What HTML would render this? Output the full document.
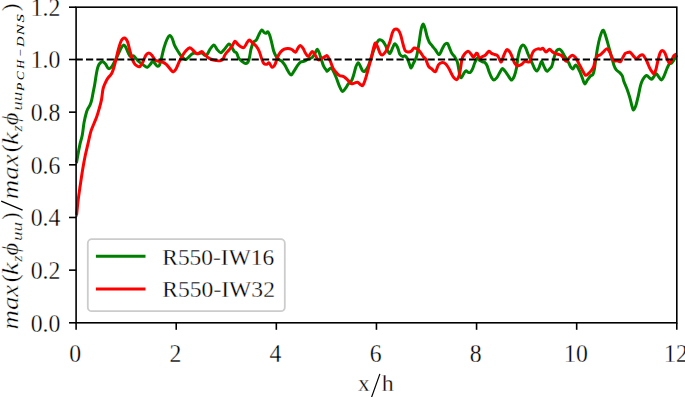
<!DOCTYPE html>
<html><head><meta charset="utf-8"><style>
html,body{margin:0;padding:0;background:#fff;}
svg{display:block;}
.t{font-family:"Liberation Serif",serif;font-size:24.5px;fill:#000;stroke:#fff;stroke-width:0.3px;}
.m{font-family:"Liberation Serif",serif;font-style:italic;font-size:24.5px;fill:#000;}
.yl{font-family:"Liberation Serif",serif;fill:#000;stroke:#fff;stroke-width:0.35px;}
.s{font-size:16.5px;}
.ss{font-size:11.8px;}
</style></head><body>
<svg width="685" height="397" viewBox="0 0 685 397">

<path d="M76.30,162.50 C76.37,162.37 76.35,163.43 76.70,161.70 C77.05,159.97 77.83,155.12 78.40,152.10 C78.97,149.08 79.45,146.45 80.10,143.60 C80.75,140.75 81.63,138.55 82.30,135.00 C82.97,131.45 83.42,126.05 84.10,122.30 C84.78,118.55 85.77,114.77 86.40,112.50 C87.03,110.23 87.28,109.97 87.90,108.70 C88.52,107.43 89.48,106.28 90.10,104.90 C90.72,103.52 91.08,102.53 91.60,100.40 C92.12,98.27 92.68,94.75 93.20,92.10 C93.72,89.45 94.17,87.55 94.70,84.50 C95.23,81.45 95.87,76.72 96.40,73.80 C96.93,70.88 97.27,68.82 97.90,67.00 C98.53,65.18 99.37,63.78 100.20,62.90 C101.03,62.02 102.02,61.52 102.90,61.70 C103.78,61.88 104.57,62.87 105.50,64.00 C106.43,65.13 107.50,68.00 108.50,68.50 C109.50,69.00 110.50,68.13 111.50,67.00 C112.50,65.87 113.48,63.58 114.50,61.70 C115.52,59.82 116.58,57.83 117.60,55.70 C118.62,53.57 119.60,50.67 120.60,48.90 C121.60,47.13 122.72,45.35 123.60,45.10 C124.48,44.85 125.15,46.13 125.90,47.40 C126.65,48.67 127.35,51.20 128.10,52.70 C128.85,54.20 129.50,55.88 130.40,56.40 C131.30,56.92 132.30,55.12 133.50,55.80 C134.70,56.48 136.30,59.20 137.60,60.50 C138.90,61.80 140.17,62.72 141.30,63.60 C142.43,64.48 143.38,65.18 144.40,65.80 C145.42,66.42 146.40,67.55 147.40,67.30 C148.40,67.05 149.52,65.30 150.40,64.30 C151.28,63.30 151.93,61.42 152.70,61.30 C153.47,61.18 154.25,62.80 155.00,63.60 C155.75,64.40 156.45,65.85 157.20,66.10 C157.95,66.35 158.73,66.65 159.50,65.10 C160.27,63.55 161.05,59.70 161.80,56.80 C162.55,53.90 163.13,50.60 164.00,47.70 C164.87,44.80 166.03,41.42 167.00,39.40 C167.97,37.38 168.92,35.73 169.80,35.60 C170.68,35.47 171.50,36.97 172.30,38.60 C173.10,40.23 173.72,43.38 174.60,45.40 C175.48,47.42 176.60,49.07 177.60,50.70 C178.60,52.33 179.58,53.93 180.60,55.20 C181.62,56.47 182.82,57.58 183.70,58.30 C184.58,59.02 185.02,59.75 185.90,59.50 C186.78,59.25 187.98,57.72 189.00,56.80 C190.02,55.88 191.00,54.63 192.00,54.00 C193.00,53.37 194.00,53.05 195.00,53.00 C196.00,52.95 196.87,53.70 198.00,53.70 C199.13,53.70 200.67,52.75 201.80,53.00 C202.93,53.25 203.92,54.95 204.80,55.20 C205.68,55.45 206.22,55.50 207.10,54.50 C207.98,53.50 208.97,50.78 210.10,49.20 C211.23,47.62 212.77,45.00 213.90,45.00 C215.03,45.00 215.77,47.92 216.90,49.20 C218.03,50.48 219.43,52.70 220.70,52.70 C221.97,52.70 223.12,50.67 224.50,49.20 C225.88,47.73 227.75,44.15 229.00,43.90 C230.25,43.65 231.12,46.43 232.00,47.70 C232.88,48.97 233.53,50.62 234.30,51.50 C235.07,52.38 235.85,51.87 236.60,53.00 C237.35,54.13 237.92,56.92 238.80,58.30 C239.68,59.68 240.75,60.42 241.90,61.30 C243.05,62.18 244.57,63.73 245.70,63.60 C246.83,63.47 247.82,62.90 248.70,60.50 C249.58,58.10 250.25,52.22 251.00,49.20 C251.75,46.18 252.33,43.92 253.20,42.40 C254.07,40.88 255.32,41.23 256.20,40.10 C257.08,38.97 257.60,37.28 258.50,35.60 C259.40,33.92 260.65,30.50 261.60,30.00 C262.55,29.50 263.47,32.05 264.20,32.60 C264.93,33.15 265.38,33.43 266.00,33.30 C266.62,33.17 267.27,31.42 267.90,31.80 C268.53,32.18 269.15,33.72 269.80,35.60 C270.45,37.48 271.17,40.58 271.80,43.10 C272.43,45.62 272.92,48.55 273.60,50.70 C274.28,52.85 275.15,54.62 275.90,56.00 C276.65,57.38 277.10,58.12 278.10,59.00 C279.10,59.88 280.77,60.28 281.90,61.30 C283.03,62.32 284.02,63.72 284.90,65.10 C285.78,66.48 286.18,67.97 287.20,69.60 C288.22,71.23 289.87,74.65 291.00,74.90 C292.13,75.15 292.87,72.73 294.00,71.10 C295.13,69.47 296.67,66.62 297.80,65.10 C298.93,63.58 299.67,62.68 300.80,62.00 C301.93,61.32 303.33,61.50 304.60,61.00 C305.87,60.50 307.13,59.58 308.40,59.00 C309.67,58.42 311.07,58.50 312.20,57.50 C313.33,56.50 314.37,54.38 315.20,53.00 C316.03,51.62 316.52,49.20 317.20,49.20 C317.88,49.20 318.63,51.37 319.30,53.00 C319.97,54.63 320.50,56.87 321.20,59.00 C321.90,61.13 322.62,63.90 323.50,65.80 C324.38,67.70 325.87,69.53 326.50,70.40 C327.13,71.27 326.55,71.40 327.30,71.00 C328.05,70.60 330.00,68.00 331.00,68.00 C332.00,68.00 332.42,69.37 333.30,71.00 C334.18,72.63 335.28,75.28 336.30,77.80 C337.32,80.32 338.38,83.83 339.40,86.10 C340.42,88.37 341.40,91.02 342.40,91.40 C343.40,91.78 344.40,89.67 345.40,88.40 C346.40,87.13 347.38,85.07 348.40,83.80 C349.42,82.53 350.62,82.30 351.50,80.80 C352.38,79.30 352.95,77.18 353.70,74.80 C354.45,72.42 355.23,68.52 356.00,66.50 C356.77,64.48 357.55,62.70 358.30,62.70 C359.05,62.70 359.75,65.12 360.50,66.50 C361.25,67.88 362.03,70.25 362.80,71.00 C363.57,71.75 364.22,71.75 365.10,71.00 C365.98,70.25 367.10,68.65 368.10,66.50 C369.10,64.35 370.10,61.00 371.10,58.10 C372.10,55.20 373.08,51.73 374.10,49.10 C375.12,46.47 376.32,43.85 377.20,42.30 C378.08,40.75 378.52,40.03 379.40,39.80 C380.28,39.57 381.48,39.97 382.50,40.90 C383.52,41.83 384.63,43.77 385.50,45.40 C386.37,47.03 386.95,49.37 387.70,50.70 C388.45,52.03 389.17,53.90 390.00,53.40 C390.83,52.90 391.90,49.32 392.70,47.70 C393.50,46.08 393.98,43.73 394.80,43.70 C395.62,43.67 396.77,45.73 397.60,47.50 C398.43,49.27 398.92,52.78 399.80,54.30 C400.68,55.82 402.02,56.35 402.90,56.60 C403.78,56.85 404.35,55.43 405.10,55.80 C405.85,56.17 406.63,57.28 407.40,58.80 C408.17,60.32 409.07,63.38 409.70,64.90 C410.33,66.42 410.58,68.15 411.20,67.90 C411.82,67.65 412.52,65.28 413.40,63.40 C414.28,61.52 415.62,59.63 416.50,56.60 C417.38,53.57 417.95,49.62 418.70,45.20 C419.45,40.78 420.28,33.62 421.00,30.10 C421.72,26.58 422.32,24.35 423.00,24.10 C423.68,23.85 424.43,26.58 425.10,28.60 C425.77,30.62 426.30,33.93 427.00,36.20 C427.70,38.47 428.42,40.57 429.30,42.20 C430.18,43.83 431.28,44.73 432.30,46.00 C433.32,47.27 434.27,48.37 435.40,49.80 C436.53,51.23 437.97,54.73 439.10,54.60 C440.23,54.47 441.27,50.68 442.20,49.00 C443.13,47.32 443.82,45.43 444.70,44.50 C445.58,43.57 446.67,42.77 447.50,43.40 C448.33,44.03 448.95,46.60 449.70,48.30 C450.45,50.00 451.12,52.10 452.00,53.60 C452.88,55.10 454.12,55.92 455.00,57.30 C455.88,58.68 456.67,59.88 457.30,61.90 C457.93,63.92 458.38,67.15 458.80,69.40 C459.22,71.65 459.38,74.03 459.80,75.40 C460.22,76.77 460.67,77.87 461.30,77.60 C461.93,77.33 462.83,74.93 463.60,73.80 C464.37,72.67 465.15,71.05 465.90,70.80 C466.65,70.55 467.35,72.05 468.10,72.30 C468.85,72.55 469.63,72.92 470.40,72.30 C471.17,71.68 471.95,70.23 472.70,68.60 C473.45,66.97 474.15,64.27 474.90,62.50 C475.65,60.73 476.43,58.38 477.20,58.00 C477.97,57.62 478.62,59.57 479.50,60.20 C480.38,60.83 481.62,61.42 482.50,61.80 C483.38,62.18 484.05,61.88 484.80,62.50 C485.55,63.12 486.25,63.87 487.00,65.50 C487.75,67.13 488.53,70.28 489.30,72.30 C490.07,74.32 490.85,76.33 491.60,77.60 C492.35,78.87 492.92,79.90 493.80,79.90 C494.68,79.90 495.88,78.87 496.90,77.60 C497.92,76.33 499.02,73.80 499.90,72.30 C500.78,70.80 501.40,68.85 502.20,68.60 C503.00,68.35 503.82,69.80 504.70,70.80 C505.58,71.80 506.53,73.22 507.50,74.60 C508.47,75.98 509.75,78.22 510.50,79.10 C511.25,79.98 511.37,80.40 512.00,79.90 C512.63,79.40 513.55,78.08 514.30,76.10 C515.05,74.12 515.88,71.18 516.50,68.00 C517.12,64.82 517.37,60.27 518.00,57.00 C518.63,53.73 519.48,50.40 520.30,48.40 C521.12,46.40 522.02,45.12 522.90,45.00 C523.78,44.88 524.77,46.25 525.60,47.70 C526.43,49.15 527.15,51.82 527.90,53.70 C528.65,55.58 529.35,57.35 530.10,59.00 C530.85,60.65 531.63,61.97 532.40,63.60 C533.17,65.23 533.95,67.55 534.70,68.80 C535.45,70.05 536.15,71.35 536.90,71.10 C537.65,70.85 538.43,68.93 539.20,67.30 C539.97,65.67 540.75,61.55 541.50,61.30 C542.25,61.05 542.95,64.28 543.70,65.80 C544.45,67.32 545.37,69.52 546.00,70.40 C546.63,71.28 546.87,71.37 547.50,71.10 C548.13,70.83 549.05,69.68 549.80,68.80 C550.55,67.92 551.25,67.80 552.00,65.80 C552.75,63.80 553.53,59.32 554.30,56.80 C555.07,54.28 555.72,51.97 556.60,50.70 C557.48,49.43 558.72,49.07 559.60,49.20 C560.48,49.33 561.15,50.50 561.90,51.50 C562.65,52.50 563.35,53.95 564.10,55.20 C564.85,56.45 565.63,57.73 566.40,59.00 C567.17,60.27 567.95,61.42 568.70,62.80 C569.45,64.18 570.20,66.30 570.90,67.30 C571.60,68.30 572.13,69.17 572.90,68.80 C573.67,68.43 574.70,65.35 575.50,65.10 C576.30,64.85 576.95,66.17 577.70,67.30 C578.45,68.43 579.23,70.13 580.00,71.90 C580.77,73.67 581.50,75.90 582.30,77.90 C583.10,79.90 583.92,83.60 584.80,83.90 C585.68,84.20 586.63,81.03 587.60,79.70 C588.57,78.37 589.72,76.78 590.60,75.90 C591.48,75.02 592.27,75.53 592.90,74.40 C593.53,73.27 593.95,71.42 594.40,69.10 C594.85,66.78 595.10,63.90 595.60,60.50 C596.10,57.10 596.72,52.43 597.40,48.70 C598.08,44.97 598.82,41.17 599.70,38.10 C600.58,35.03 601.83,31.05 602.70,30.30 C603.57,29.55 604.15,31.78 604.90,33.60 C605.65,35.42 606.43,38.55 607.20,41.20 C607.97,43.85 608.73,46.73 609.50,49.50 C610.27,52.27 611.05,55.15 611.80,57.80 C612.55,60.45 613.25,63.38 614.00,65.40 C614.75,67.42 615.42,68.77 616.30,69.90 C617.18,71.03 618.30,71.20 619.30,72.20 C620.30,73.20 621.55,74.40 622.30,75.90 C623.05,77.40 623.03,79.07 623.80,81.20 C624.57,83.33 625.88,85.93 626.90,88.70 C627.92,91.47 629.02,94.77 629.90,97.80 C630.78,100.83 631.57,104.88 632.20,106.90 C632.83,108.92 633.08,110.15 633.70,109.90 C634.32,109.65 635.15,107.67 635.90,105.40 C636.65,103.13 637.43,99.58 638.20,96.30 C638.97,93.02 639.75,88.47 640.50,85.70 C641.25,82.93 641.70,81.40 642.70,79.70 C643.70,78.00 645.35,75.78 646.50,75.50 C647.65,75.22 648.70,77.40 649.60,78.00 C650.50,78.60 651.13,79.42 651.90,79.10 C652.67,78.78 653.45,76.98 654.20,76.10 C654.95,75.22 655.65,73.68 656.40,73.80 C657.15,73.92 657.87,75.78 658.70,76.80 C659.53,77.82 660.52,80.02 661.40,79.90 C662.28,79.78 663.07,78.00 664.00,76.10 C664.93,74.20 666.12,70.52 667.00,68.50 C667.88,66.48 668.53,64.88 669.30,64.00 C670.07,63.12 670.85,63.83 671.60,63.20 C672.35,62.57 672.93,61.53 673.80,60.20 C674.67,58.87 676.30,56.03 676.80,55.20" fill="none" stroke="#008000" stroke-width="3" stroke-linejoin="round"/>
<path d="M76.30,215.00 C76.37,214.85 76.42,216.38 76.70,214.10 C76.98,211.82 77.43,205.93 78.00,201.30 C78.57,196.67 79.32,191.65 80.10,186.30 C80.88,180.95 81.83,174.37 82.70,169.20 C83.57,164.03 84.42,159.57 85.30,155.30 C86.18,151.03 87.07,147.58 88.00,143.60 C88.93,139.62 89.92,134.70 90.90,131.40 C91.88,128.10 92.90,126.32 93.90,123.80 C94.90,121.28 96.02,118.82 96.90,116.30 C97.78,113.78 98.43,111.48 99.20,108.70 C99.97,105.92 100.87,102.87 101.50,99.60 C102.13,96.33 102.38,91.83 103.00,89.10 C103.62,86.37 104.42,84.98 105.20,83.20 C105.98,81.42 106.65,79.97 107.70,78.40 C108.75,76.83 110.48,75.57 111.50,73.80 C112.52,72.03 113.05,70.18 113.80,67.80 C114.55,65.42 115.25,62.53 116.00,59.50 C116.75,56.47 117.42,52.75 118.30,49.60 C119.18,46.45 120.28,42.55 121.30,40.60 C122.32,38.65 123.38,37.78 124.40,37.90 C125.42,38.02 126.53,39.35 127.40,41.30 C128.27,43.25 128.85,46.82 129.60,49.60 C130.35,52.38 131.13,55.73 131.90,58.00 C132.67,60.27 133.38,61.90 134.20,63.20 C135.02,64.50 135.87,65.23 136.80,65.80 C137.73,66.37 138.78,67.23 139.80,66.60 C140.82,65.97 141.88,63.90 142.90,62.00 C143.92,60.10 144.90,56.70 145.90,55.20 C146.90,53.70 147.90,53.00 148.90,53.00 C149.90,53.00 150.88,54.07 151.90,55.20 C152.92,56.33 153.87,58.78 155.00,59.80 C156.13,60.82 157.45,60.93 158.70,61.30 C159.95,61.67 161.23,61.50 162.50,62.00 C163.77,62.50 165.05,63.17 166.30,64.30 C167.55,65.43 168.87,67.53 170.00,68.80 C171.13,70.07 172.08,71.90 173.10,71.90 C174.12,71.90 175.10,70.45 176.10,68.80 C177.10,67.15 178.08,64.13 179.10,62.00 C180.12,59.87 181.07,57.88 182.20,56.00 C183.33,54.12 184.65,52.08 185.90,50.70 C187.15,49.32 188.57,47.82 189.70,47.70 C190.83,47.58 191.68,49.12 192.70,50.00 C193.72,50.88 194.92,52.38 195.80,53.00 C196.68,53.62 197.00,53.95 198.00,53.70 C199.00,53.45 200.67,51.37 201.80,51.50 C202.93,51.63 203.78,53.50 204.80,54.50 C205.82,55.50 206.77,56.67 207.90,57.50 C209.03,58.33 210.22,59.00 211.60,59.50 C212.98,60.00 214.80,60.28 216.20,60.50 C217.60,60.72 218.87,61.05 220.00,60.80 C221.13,60.55 222.13,60.05 223.00,59.00 C223.87,57.95 224.20,56.00 225.20,54.50 C226.20,53.00 227.87,51.38 229.00,50.00 C230.13,48.62 231.00,47.65 232.00,46.20 C233.00,44.75 233.98,41.55 235.00,41.30 C236.02,41.05 237.08,43.77 238.10,44.70 C239.12,45.63 240.10,46.45 241.10,46.90 C242.10,47.35 243.08,48.15 244.10,47.40 C245.12,46.65 246.32,43.62 247.20,42.40 C248.08,41.18 248.52,40.03 249.40,40.10 C250.28,40.17 251.37,41.78 252.50,42.80 C253.63,43.82 255.07,44.75 256.20,46.20 C257.33,47.65 258.42,49.48 259.30,51.50 C260.18,53.52 260.75,56.28 261.50,58.30 C262.25,60.32 262.92,62.60 263.80,63.60 C264.68,64.60 265.92,64.43 266.80,64.30 C267.68,64.17 268.22,62.30 269.10,62.80 C269.98,63.30 271.10,67.05 272.10,67.30 C273.10,67.55 274.22,65.93 275.10,64.30 C275.98,62.67 276.52,59.52 277.40,57.50 C278.28,55.48 279.27,53.58 280.40,52.20 C281.53,50.82 282.93,49.83 284.20,49.20 C285.47,48.57 286.73,48.35 288.00,48.40 C289.27,48.45 290.55,48.87 291.80,49.50 C293.05,50.13 294.50,52.38 295.50,52.20 C296.50,52.02 297.03,49.53 297.80,48.40 C298.57,47.27 299.22,45.40 300.10,45.40 C300.98,45.40 302.22,47.13 303.10,48.40 C303.98,49.67 304.52,51.67 305.40,53.00 C306.28,54.33 307.27,56.65 308.40,56.40 C309.53,56.15 311.07,51.70 312.20,51.50 C313.33,51.30 314.20,53.82 315.20,55.20 C316.20,56.58 317.20,59.17 318.20,59.80 C319.20,60.43 319.93,59.63 321.20,59.00 C322.47,58.37 324.78,56.52 325.80,56.00 C326.82,55.48 326.55,55.03 327.30,55.90 C328.05,56.77 329.30,59.07 330.30,61.20 C331.30,63.33 332.30,66.82 333.30,68.70 C334.30,70.58 335.28,71.37 336.30,72.50 C337.32,73.63 338.27,74.87 339.40,75.50 C340.53,76.13 341.97,75.78 343.10,76.30 C344.23,76.82 345.18,77.72 346.20,78.60 C347.22,79.48 348.32,80.73 349.20,81.60 C350.08,82.47 350.62,83.55 351.50,83.80 C352.38,84.05 353.50,83.35 354.50,83.10 C355.50,82.85 356.50,82.05 357.50,82.30 C358.50,82.55 359.62,84.08 360.50,84.60 C361.38,85.12 362.03,86.15 362.80,85.40 C363.57,84.65 364.35,82.25 365.10,80.10 C365.85,77.95 366.55,75.15 367.30,72.50 C368.05,69.85 368.83,67.10 369.60,64.20 C370.37,61.30 371.15,58.13 371.90,55.10 C372.65,52.07 373.48,48.02 374.10,46.00 C374.72,43.98 374.97,42.73 375.60,43.00 C376.23,43.27 377.13,45.83 377.90,47.60 C378.67,49.37 379.48,52.35 380.20,53.60 C380.92,54.85 381.45,55.22 382.20,55.10 C382.95,54.98 383.90,53.90 384.70,52.90 C385.50,51.90 386.12,51.00 387.00,49.10 C387.88,47.20 389.12,44.17 390.00,41.50 C390.88,38.83 391.55,35.12 392.30,33.10 C393.05,31.08 393.50,29.90 394.50,29.40 C395.50,28.90 397.28,29.22 398.30,30.10 C399.32,30.98 399.83,32.43 400.60,34.70 C401.37,36.97 402.15,41.07 402.90,43.70 C403.65,46.33 404.23,49.12 405.10,50.50 C405.97,51.88 407.08,51.87 408.10,52.00 C409.12,52.13 410.18,51.97 411.20,51.30 C412.22,50.63 413.20,48.38 414.20,48.00 C415.20,47.62 416.20,48.33 417.20,49.00 C418.20,49.67 419.18,50.73 420.20,52.00 C421.22,53.27 422.42,55.47 423.30,56.60 C424.18,57.73 424.62,57.17 425.50,58.80 C426.38,60.43 427.58,64.75 428.60,66.40 C429.62,68.05 430.47,67.82 431.60,68.70 C432.73,69.58 434.27,72.33 435.40,71.70 C436.53,71.07 437.27,66.42 438.40,64.90 C439.53,63.38 440.95,62.73 442.20,62.60 C443.45,62.47 444.77,63.08 445.90,64.10 C447.03,65.12 448.07,67.08 449.00,68.70 C449.93,70.32 450.70,72.32 451.50,73.80 C452.30,75.28 452.92,76.63 453.80,77.60 C454.68,78.57 455.92,79.97 456.80,79.60 C457.68,79.23 458.47,77.37 459.10,75.40 C459.73,73.43 460.10,70.58 460.60,67.80 C461.10,65.02 461.47,60.97 462.10,58.70 C462.73,56.43 463.40,55.45 464.40,54.20 C465.40,52.95 466.97,51.20 468.10,51.20 C469.23,51.20 470.32,53.20 471.20,54.20 C472.08,55.20 472.65,57.20 473.40,57.20 C474.15,57.20 475.07,54.83 475.70,54.20 C476.33,53.57 476.57,52.77 477.20,53.40 C477.83,54.03 478.62,57.48 479.50,58.00 C480.38,58.52 481.50,57.00 482.50,56.50 C483.50,56.00 484.42,55.88 485.50,55.00 C486.58,54.12 487.98,51.47 489.00,51.20 C490.02,50.93 490.67,52.85 491.60,53.40 C492.53,53.95 493.60,54.12 494.60,54.50 C495.60,54.88 496.72,54.75 497.60,55.70 C498.48,56.65 499.27,59.18 499.90,60.20 C500.53,61.22 500.77,62.55 501.40,61.80 C502.03,61.05 502.82,57.72 503.70,55.70 C504.58,53.68 505.70,50.33 506.70,49.70 C507.70,49.07 508.82,50.77 509.70,51.90 C510.58,53.03 511.23,54.73 512.00,56.50 C512.77,58.27 513.55,61.03 514.30,62.50 C515.05,63.97 515.80,64.75 516.50,65.30 C517.20,65.85 517.62,65.97 518.50,65.80 C519.38,65.63 520.75,65.05 521.80,64.30 C522.85,63.55 523.78,61.68 524.80,61.30 C525.82,60.92 527.02,62.00 527.90,62.00 C528.78,62.00 529.48,62.43 530.10,61.30 C530.72,60.17 530.97,56.97 531.60,55.20 C532.23,53.43 532.88,51.75 533.90,50.70 C534.92,49.65 536.57,49.15 537.70,48.90 C538.83,48.65 539.82,49.28 540.70,49.20 C541.58,49.12 542.12,47.95 543.00,48.40 C543.88,48.85 544.92,51.77 546.00,51.90 C547.08,52.03 548.50,49.27 549.50,49.20 C550.50,49.13 551.07,50.80 552.00,51.50 C552.93,52.20 553.97,52.90 555.10,53.40 C556.23,53.90 557.67,54.07 558.80,54.50 C559.93,54.93 561.02,55.25 561.90,56.00 C562.78,56.75 563.35,58.12 564.10,59.00 C564.85,59.88 565.52,61.55 566.40,61.30 C567.28,61.05 568.38,58.52 569.40,57.50 C570.42,56.48 571.48,55.20 572.50,55.20 C573.52,55.20 574.63,56.48 575.50,57.50 C576.37,58.52 576.95,59.92 577.70,61.30 C578.45,62.68 579.23,64.37 580.00,65.80 C580.77,67.23 581.42,68.33 582.30,69.90 C583.18,71.47 584.30,74.57 585.30,75.20 C586.30,75.83 587.30,74.45 588.30,73.70 C589.30,72.95 590.42,71.83 591.30,70.70 C592.18,69.57 592.97,68.55 593.60,66.90 C594.23,65.25 594.47,62.62 595.10,60.80 C595.73,58.98 596.52,57.00 597.40,56.00 C598.28,55.00 599.40,55.50 600.40,54.80 C601.40,54.10 602.32,52.82 603.40,51.80 C604.48,50.78 605.88,48.70 606.90,48.70 C607.92,48.70 608.68,50.42 609.50,51.80 C610.32,53.18 611.05,55.50 611.80,57.00 C612.55,58.50 613.13,60.17 614.00,60.80 C614.87,61.43 615.92,60.67 617.00,60.80 C618.08,60.93 619.48,62.23 620.50,61.60 C621.52,60.97 622.28,58.38 623.10,57.00 C623.92,55.62 624.65,54.05 625.40,53.30 C626.15,52.55 626.85,52.70 627.60,52.50 C628.35,52.30 629.12,51.75 629.90,52.10 C630.68,52.45 631.53,53.75 632.30,54.60 C633.07,55.45 633.75,56.52 634.50,57.20 C635.25,57.88 635.92,58.95 636.80,58.70 C637.68,58.45 638.80,56.33 639.80,55.70 C640.80,55.07 641.92,54.52 642.80,54.90 C643.68,55.28 644.33,56.73 645.10,58.00 C645.87,59.27 646.65,60.87 647.40,62.50 C648.15,64.13 648.85,66.28 649.60,67.80 C650.35,69.32 651.18,70.60 651.90,71.60 C652.62,72.60 653.22,74.18 653.90,73.80 C654.58,73.42 655.32,71.57 656.00,69.30 C656.68,67.03 657.30,62.97 658.00,60.20 C658.70,57.43 659.50,54.33 660.20,52.70 C660.90,51.07 661.43,50.40 662.20,50.40 C662.97,50.40 664.00,51.32 664.80,52.70 C665.60,54.08 666.25,56.95 667.00,58.70 C667.75,60.45 668.53,62.95 669.30,63.20 C670.07,63.45 670.85,61.45 671.60,60.20 C672.35,58.95 672.93,56.73 673.80,55.70 C674.67,54.67 676.30,54.28 676.80,54.00" fill="none" stroke="#ff0000" stroke-width="3" stroke-linejoin="round"/>
<line x1="76.1" y1="59.4" x2="676.8" y2="59.4" stroke="#000" stroke-width="2" stroke-dasharray="7.2 3.15" stroke-dashoffset="0.45"/>

<rect x="76.1" y="7.18" width="600.70" height="315.62" fill="none" stroke="#000" stroke-width="1.6"/><line x1="69" y1="322.80" x2="76.1" y2="322.80" stroke="#000" stroke-width="1.6"/><text transform="translate(60.35,331.50) scale(0.97,1)" text-anchor="end" class="t">0.0</text><line x1="69" y1="270.14" x2="76.1" y2="270.14" stroke="#000" stroke-width="1.6"/><text transform="translate(60.35,278.84) scale(0.97,1)" text-anchor="end" class="t">0.2</text><line x1="69" y1="217.48" x2="76.1" y2="217.48" stroke="#000" stroke-width="1.6"/><text transform="translate(60.35,226.18) scale(0.97,1)" text-anchor="end" class="t">0.4</text><line x1="69" y1="164.82" x2="76.1" y2="164.82" stroke="#000" stroke-width="1.6"/><text transform="translate(60.35,173.52) scale(0.97,1)" text-anchor="end" class="t">0.6</text><line x1="69" y1="112.16" x2="76.1" y2="112.16" stroke="#000" stroke-width="1.6"/><text transform="translate(60.35,120.86) scale(0.97,1)" text-anchor="end" class="t">0.8</text><line x1="69" y1="59.50" x2="76.1" y2="59.50" stroke="#000" stroke-width="1.6"/><text transform="translate(60.35,68.20) scale(0.97,1)" text-anchor="end" class="t">1.0</text><line x1="69" y1="7.18" x2="76.1" y2="7.18" stroke="#000" stroke-width="1.6"/><text transform="translate(60.35,15.88) scale(0.97,1)" text-anchor="end" class="t">1.2</text><line x1="76.10" y1="322.8" x2="76.10" y2="329.8" stroke="#000" stroke-width="1.6"/><text transform="translate(75.30,361.8) scale(0.97,1)" text-anchor="middle" class="t">0</text><line x1="176.22" y1="322.8" x2="176.22" y2="329.8" stroke="#000" stroke-width="1.6"/><text transform="translate(175.42,361.8) scale(0.97,1)" text-anchor="middle" class="t">2</text><line x1="276.33" y1="322.8" x2="276.33" y2="329.8" stroke="#000" stroke-width="1.6"/><text transform="translate(275.53,361.8) scale(0.97,1)" text-anchor="middle" class="t">4</text><line x1="376.45" y1="322.8" x2="376.45" y2="329.8" stroke="#000" stroke-width="1.6"/><text transform="translate(375.65,361.8) scale(0.97,1)" text-anchor="middle" class="t">6</text><line x1="476.57" y1="322.8" x2="476.57" y2="329.8" stroke="#000" stroke-width="1.6"/><text transform="translate(475.77,361.8) scale(0.97,1)" text-anchor="middle" class="t">8</text><line x1="576.68" y1="322.8" x2="576.68" y2="329.8" stroke="#000" stroke-width="1.6"/><text transform="translate(575.88,361.8) scale(0.97,1)" text-anchor="middle" class="t">10</text><line x1="676.80" y1="322.8" x2="676.80" y2="329.8" stroke="#000" stroke-width="1.6"/><text transform="translate(676.00,361.8) scale(0.97,1)" text-anchor="middle" class="t">12</text><text transform="translate(357.9,390.7) scale(1.037,1)" class="t" style="font-size:22.5px">x</text><text transform="translate(381.7,390.7) scale(1.065,1)" class="t" style="font-size:22.5px">h</text><line x1="379.9" y1="373.9" x2="371.1" y2="398.5" stroke="#000" stroke-width="1.2"/>
<text transform="translate(18.30,329.43) rotate(-90) scale(1.166,1)" style="font-style:italic;font-size:23px" class="yl">max</text><text transform="translate(18.30,282.35) rotate(-90) scale(1.051,1)" style="font-style:normal;font-size:23px" class="yl">(</text><text transform="translate(18.30,275.29) rotate(-90) scale(1.265,1)" style="font-style:italic;font-size:23px" class="yl">k</text><text transform="translate(22.10,261.79) rotate(-90) scale(1.050,1)" style="font-style:italic;font-size:15.5px;stroke-width:0.25px" class="yl">z</text><text transform="translate(18.30,255.54) rotate(-90) scale(1.073,1)" style="font-style:italic;font-size:23px" class="yl">ϕ</text><text transform="translate(22.10,240.99) rotate(-90) scale(1.241,1)" style="font-style:italic;font-size:15.5px;stroke-width:0.25px" class="yl">uu</text><text transform="translate(18.30,219.65) rotate(-90) scale(0.932,1)" style="font-style:normal;font-size:23px" class="yl">)</text><text transform="translate(18.30,199.13) rotate(-90) scale(1.166,1)" style="font-style:italic;font-size:23px" class="yl">max</text><text transform="translate(18.30,152.15) rotate(-90) scale(1.051,1)" style="font-style:normal;font-size:23px" class="yl">(</text><text transform="translate(18.30,145.09) rotate(-90) scale(1.265,1)" style="font-style:italic;font-size:23px" class="yl">k</text><text transform="translate(22.10,131.59) rotate(-90) scale(1.050,1)" style="font-style:italic;font-size:15.5px;stroke-width:0.25px" class="yl">z</text><text transform="translate(18.30,125.34) rotate(-90) scale(1.073,1)" style="font-style:italic;font-size:23px" class="yl">ϕ</text><text transform="translate(22.10,110.78) rotate(-90) scale(1.227,1)" style="font-style:italic;font-size:15.5px;stroke-width:0.25px" class="yl">uu</text><text transform="translate(23.70,90.90) rotate(-90) scale(1.234,1)" style="font-style:italic;font-size:11px;stroke-width:0" class="yl">P</text><text transform="translate(23.70,80.32) rotate(-90) scale(1.206,1)" style="font-style:italic;font-size:11px;stroke-width:0" class="yl">C</text><text transform="translate(23.70,68.79) rotate(-90) scale(1.118,1)" style="font-style:italic;font-size:11px;stroke-width:0" class="yl">H</text><text transform="translate(24.10,56.39) rotate(-90) scale(1.157,1)" style="font-style:normal;font-size:11px;stroke-width:0" class="yl">−</text><text transform="translate(23.70,47.07) rotate(-90) scale(1.329,1)" style="font-style:italic;font-size:11px;stroke-width:0" class="yl">D</text><text transform="translate(23.70,35.25) rotate(-90) scale(1.494,1)" style="font-style:italic;font-size:11px;stroke-width:0" class="yl">N</text><text transform="translate(23.70,22.45) rotate(-90) scale(1.519,1)" style="font-style:italic;font-size:11px;stroke-width:0" class="yl">S</text><text transform="translate(18.30,11.20) rotate(-90) scale(1.000,1)" style="font-style:normal;font-size:23px" class="yl">)</text><line x1="1.2" y1="201.2" x2="22.6" y2="210.2" stroke="#000" stroke-width="1.3"/>

<rect x="87.8" y="239.2" width="197" height="72" rx="4" ry="4" fill="#fff" fill-opacity="0.8" stroke="#cccccc" stroke-width="1.8"/>
<line x1="95.9" y1="256.2" x2="145.5" y2="256.2" stroke="#008000" stroke-width="3"/>
<line x1="95.9" y1="289" x2="145.5" y2="289" stroke="#ff0000" stroke-width="3"/>
<text transform="translate(162.3,264.8) scale(0.976,1)" class="t" style="font-size:24px">R550-IW16</text>
<text transform="translate(162.3,296.8) scale(0.983,1)" class="t" style="font-size:24px">R550-IW32</text>

</svg>
</body></html>
